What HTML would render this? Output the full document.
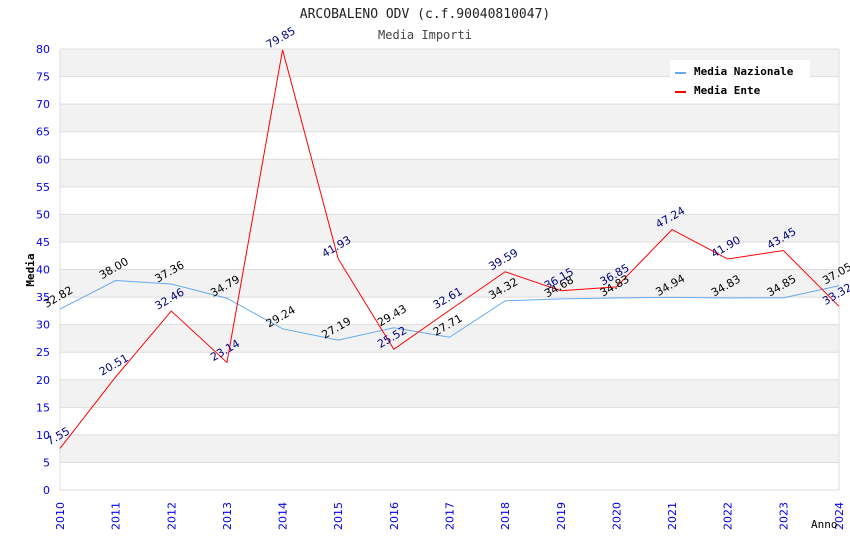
<!DOCTYPE html>
<html><head><meta charset="utf-8"><style>
body{margin:0;background:#fff;}
svg{display:block;font-family:"DejaVu Sans","Liberation Sans",sans-serif;}
</style></head><body>
<svg id="chart" width="850" height="550">
<text x="425" y="18" text-anchor="middle" font-family="DejaVu Sans Mono,monospace" font-size="13" fill="#222">ARCOBALENO ODV (c.f.90040810047)</text>
<text x="425" y="39" text-anchor="middle" font-family="DejaVu Sans Mono,monospace" font-size="12" fill="#444">Media Importi</text>
<g id="bands"></g><g id="grid"></g><g id="axes"></g><g id="series"></g><g id="labels"></g>
<text x="34" y="270" transform="rotate(-90 34 270)" text-anchor="middle" font-family="DejaVu Sans Mono,monospace" font-size="11" font-weight="bold" fill="#000">Media</text>
<text x="811" y="528" font-family="DejaVu Sans Mono,monospace" font-size="11" fill="#000">Anno</text>
<g>
<rect x="670" y="60" width="140" height="42" fill="#fff"/>
<g><line x1="675" y1="73" x2="686" y2="73" stroke="#66aaee" stroke-width="2"/><text x="694" y="75" font-family="DejaVu Sans Mono,monospace" font-size="11" font-weight="bold">Media Nazionale</text></g>
<g><line x1="675" y1="92" x2="686" y2="92" stroke="#ff0000" stroke-width="2"/><text x="694" y="94" font-family="DejaVu Sans Mono,monospace" font-size="11" font-weight="bold">Media Ente</text></g>
</g>
</svg>
<script>
const years=[2010,2011,2012,2013,2014,2015,2016,2017,2018,2019,2020,2021,2022,2023,2024];
const nazionale=[32.82,38.00,37.36,34.79,29.24,27.19,29.43,27.71,34.32,34.68,34.83,34.94,34.83,34.85,37.05];
const ente=[7.55,20.51,32.46,23.14,79.85,41.93,25.52,32.61,39.59,36.15,36.85,47.24,41.90,43.45,33.32];
const yTicks=[0,5,10,15,20,25,30,35,40,45,50,55,60,65,70,75,80];
const X0=60,X1=839,Y0=490,Y1=49,YMAX=80;
const NS="http://www.w3.org/2000/svg";
function xs(i){return X0+(X1-X0)*i/(years.length-1);}
function ys(v){return Y0-(Y0-Y1)*v/YMAX;}
function mk(tag,attrs,parent){const e=document.createElementNS(NS,tag);for(const k in attrs)e.setAttribute(k,attrs[k]);document.getElementById(parent).appendChild(e);return e;}
for(let k=0;k<yTicks.length-1;k++){
  if(k%2===1){const b=mk('rect',{x:X0,y:ys(yTicks[k+1]),width:X1-X0,height:ys(yTicks[k])-ys(yTicks[k+1]),fill:'#f2f2f2'},'bands');
  
  }
}
yTicks.forEach(t=>{
  const l=mk('line',{x1:X0,x2:X1,y1:ys(t),y2:ys(t),stroke:'#dddddd'},'grid');
  
  
  const tx=mk('text',{x:X0-10,y:ys(t)+4,'text-anchor':'end','font-size':11,fill:'#0000ee'},'axes');
  tx.textContent=t;
  
  
});
const ax=mk('path',{d:`M${X0} ${Y1}V${Y0}H${X1}V${Y1}`,stroke:'#dddddd',fill:'none'},'axes');


years.forEach((y,i)=>{
  const t=mk('text',{x:xs(i)+4,y:Y0+40,transform:`rotate(-90 ${xs(i)+4} ${Y0+40})`,'font-size':11,fill:'#0000ee'},'axes');
  t.textContent=y;
  
  
});
function series(vals,color,lblColor,name){
  const p=mk('polyline',{points:vals.map((v,i)=>xs(i)+','+ys(v)).join(' '),fill:'none',stroke:color,'stroke-width':1},'series');
  
  
  vals.forEach((v,i)=>{
    const x=xs(i),y=ys(v)-9;
    const t=mk('text',{x:x,y:y,'text-anchor':'middle','font-size':11,fill:lblColor,transform:`rotate(-30 ${x} ${y})`},'labels');
    t.textContent=v.toFixed(2);
    
    
  });
}
series(nazionale,'#66aaee','#000','nazionale');
series(ente,'#ff0000','#000080','ente');
</script>
</body></html>
